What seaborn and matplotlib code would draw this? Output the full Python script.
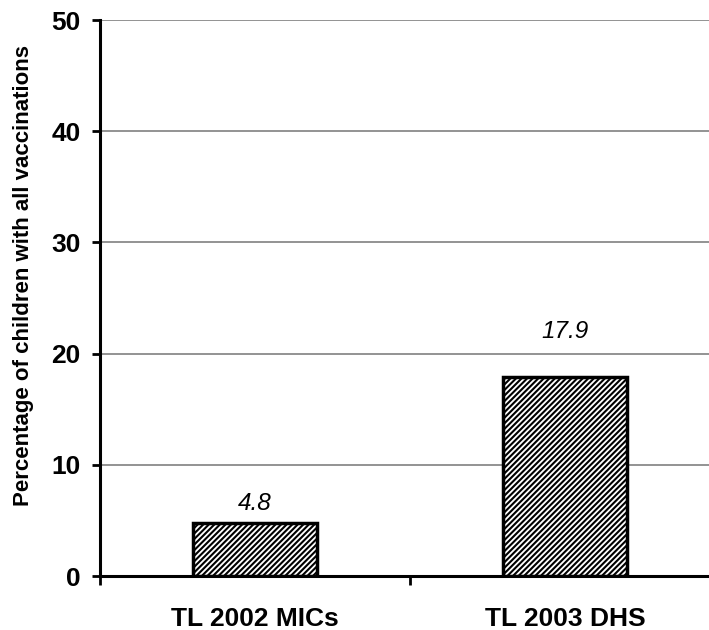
import matplotlib
matplotlib.use("Agg")
import matplotlib.pyplot as plt
import seaborn as sns
import pandas as pd

categories = ["TL 2002 MICs", "TL 2003 DHS"]
values = [4.8, 17.9]
yticks = [0, 10, 20, 30, 40, 50]
label_offsets = [1.15, 3.5]

sns.set_theme(style="white")
plt.rcParams['font.family'] = ['Liberation Sans', 'DejaVu Sans']
plt.rcParams['hatch.linewidth'] = 1.5
plt.rcParams['text.color'] = 'black'

df = pd.DataFrame({"cat": categories, "val": values})

fig = plt.figure(figsize=(7.09, 6.30), dpi=100)
ax = fig.add_axes([100/709, 54/630, 620/709, 556/630])

sns.barplot(data=df, x="cat", y="val", ax=ax, color="white", width=0.403,
            edgecolor="black", linewidth=2.5, hatch="//////", zorder=3)

ax.set_ylim(0, 50)
ax.set_xlim(-0.5, 1.5)
ax.set_yticks(yticks)
ax.set_yticklabels([str(t) for t in yticks], fontsize=19, fontweight="bold", color="black")
for t in yticks[1:]:
    ax.axhline(t, color="#808080", linewidth=1.2, zorder=1)

ax.set_xticks([0, 1])
ax.set_xticklabels(categories, fontsize=19, fontweight="bold", color="black")
ax.tick_params(axis="x", which="major", length=0, pad=22)
ax.set_xticks([-0.5, 0.5, 1.5], minor=True)
ax.tick_params(axis="x", which="minor", length=6.5, width=2, direction="out", color="black", bottom=True)
ax.tick_params(axis="y", length=6, width=2, direction="out", color="black", left=True, pad=8)

for s in ["top", "right"]:
    ax.spines[s].set_visible(False)
for s in ["left", "bottom"]:
    ax.spines[s].set_visible(True)
    ax.spines[s].set_color("black")
    ax.spines[s].set_linewidth(2.2)
    ax.spines[s].set_zorder(5)

ax.set_xlabel("")
ax.set_ylabel("Percentage of children with all vaccinations", fontsize=16, fontweight="bold", color="black")
ax.yaxis.set_label_coords(-0.107, 0.54)

for i, v in enumerate(values):
    ax.text(i, v + label_offsets[i], f"{v}", ha="center", va="baseline", fontsize=17.5,
            fontstyle="italic", color="black")

fig.savefig("out.png", dpi=100)
